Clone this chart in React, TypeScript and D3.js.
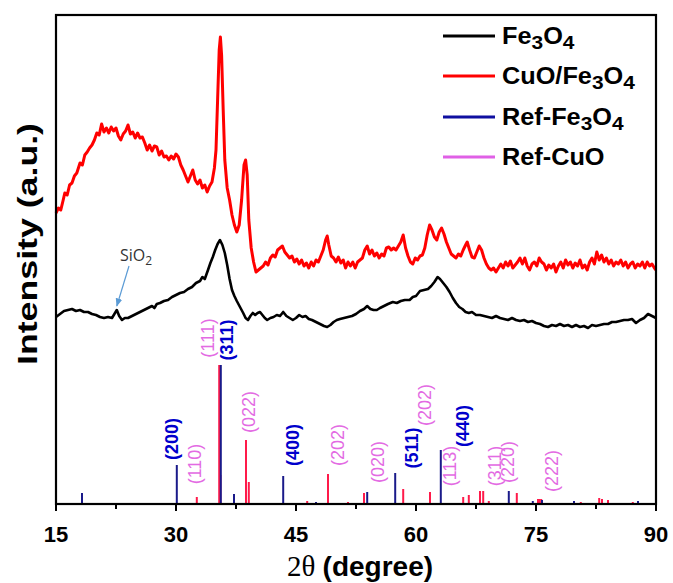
import React from 'react';
import * as d3 from 'd3';

// [2θ (degree), intensity (a.u.)]
const cuoFe3o4: [number, number][] = [
  [15.0,291],[15.3,296],[15.6,294],[15.9,304],[16.1,311],[16.4,309],[16.7,319],[17.0,321],[17.3,328],[17.6,331],
  [18.0,341],[18.3,339],[18.6,349],[18.9,352],[19.2,356],[19.5,359],[19.8,364],[20.1,371],[20.4,369],[20.7,380],
  [21.0,372],[21.3,376],[21.6,371],[21.9,377],[22.2,373],[22.5,376],[22.8,368],[23.1,364],[23.4,370],[23.7,373],
  [24.0,379],[24.3,370],[24.6,372],[24.9,366],[25.2,371],[25.5,366],[25.8,367],[26.1,361],[26.4,354],[26.7,359],
  [27.0,353],[27.3,358],[27.6,357],[27.9,349],[28.2,353],[28.5,347],[28.8,348],[29.1,344],[29.4,348],[29.7,345],
  [30.0,350],[30.3,347],[30.6,339],[30.9,334],[31.2,328],[31.5,322],[31.8,328],[32.1,334],[32.4,324],[32.7,320],
  [33.0,324],[33.3,316],[33.6,319],[33.9,312],[34.2,318],[34.5,322],[34.8,336],[35.0,354],[35.2,404],[35.4,454],
  [35.55,467],[35.7,449],[35.9,394],[36.1,344],[36.4,316],[36.7,304],[37.0,289],[37.3,279],[37.6,272],[37.9,279],
  [38.2,304],[38.5,339],[38.7,344],[38.9,329],[39.1,284],[39.4,256],[39.7,242],[40.0,232],[40.3,234],[40.6,236],
  [40.9,238],[41.2,242],[41.5,239],[41.8,246],[42.1,249],[42.4,247],[42.7,254],[43.0,256],[43.3,258],[43.6,252],
  [43.9,249],[44.2,246],[44.5,248],[44.8,242],[45.1,245],[45.4,240],[45.7,244],[46.0,238],[46.3,241],[46.6,236],
  [46.9,242],[47.2,238],[47.5,244],[47.8,242],[48.1,248],[48.4,254],[48.7,264],[48.9,268],[49.1,259],[49.4,248],
  [49.7,246],[50.0,242],[50.3,247],[50.6,241],[50.9,244],[51.2,236],[51.5,242],[51.8,238],[52.1,242],[52.4,236],
  [52.7,242],[53.0,244],[53.3,246],[53.6,254],[53.9,258],[54.2,250],[54.5,254],[54.8,248],[55.1,251],[55.4,246],
  [55.7,250],[56.0,248],[56.3,256],[56.6,257],[56.9,254],[57.2,256],[57.5,254],[57.8,258],[58.1,262],[58.4,269],
  [58.7,256],[59.0,248],[59.3,242],[59.6,240],[59.9,246],[60.2,244],[60.5,248],[60.8,249],[61.1,256],[61.4,269],
  [61.7,279],[62.0,274],[62.3,267],[62.6,264],[62.9,272],[63.2,276],[63.5,270],[63.8,262],[64.1,256],[64.4,250],
  [64.7,248],[65.0,246],[65.3,250],[65.6,248],[65.9,254],[66.2,259],[66.4,262],[66.7,254],[67.0,247],[67.3,246],
  [67.6,252],[67.9,258],[68.2,254],[68.5,246],[68.8,240],[69.1,236],[69.4,234],[69.7,236],[70.0,232],[70.3,236],
  [70.6,240],[70.9,236],[71.2,242],[71.5,238],[71.8,243],[72.1,236],[72.4,239],[72.7,242],[73.0,246],[73.3,240],
  [73.6,246],[73.9,238],[74.2,234],[74.5,240],[74.8,242],[75.1,238],[75.4,246],[75.7,242],[76.0,240],[76.3,234],
  [76.6,239],[76.9,236],[77.2,240],[77.5,232],[77.8,238],[78.1,242],[78.4,236],[78.7,244],[79.0,239],[79.3,242],
  [79.6,236],[79.9,241],[80.2,238],[80.5,244],[80.8,236],[81.1,239],[81.4,234],[81.7,242],[82.0,246],[82.3,240],
  [82.6,252],[82.9,244],[83.2,249],[83.5,242],[83.8,246],[84.1,240],[84.4,244],[84.7,238],[85.0,242],[85.3,240],
  [85.6,244],[85.9,238],[86.2,242],[86.5,236],[86.8,240],[87.1,242],[87.4,236],[87.7,240],[88.0,238],[88.3,242],
  [88.6,236],[88.9,242],[89.2,238],[89.5,240],[89.8,236],[90.0,234],
];

const fe3o4: [number, number][] = [
  [15.0,187],[15.5,190],[16.0,193],[16.5,194],[17.0,195],[17.5,193],[18.0,194],[18.5,192],[19.0,192],[19.5,190],
  [20.0,189],[20.5,187],[21.0,186],[21.5,187],[22.0,186],[22.3,190],[22.6,194],[22.9,188],[23.25,184],[23.6,186],
  [24.0,186],[24.5,188],[25.0,190],[25.5,192],[26.0,194],[26.5,196],[27.0,198],[27.3,196],[27.6,200],[28.0,201],
  [28.5,203],[29.0,204],[29.5,207],[30.0,209],[30.5,211],[31.0,212],[31.5,215],[32.0,217],[32.5,221],[33.0,223],
  [33.3,227],[33.6,225],[34.0,234],[34.3,241],[34.6,247],[34.9,254],[35.2,260],[35.5,264],[35.8,259],[36.1,251],
  [36.4,239],[36.7,225],[37.0,214],[37.3,208],[37.6,203],[38.0,197],[38.4,191],[38.7,186],[39.0,184],[39.3,188],
  [39.6,191],[39.9,189],[40.2,191],[40.5,192],[40.8,189],[41.1,186],[41.4,184],[41.8,186],[42.2,187],[42.6,189],
  [43.0,188],[43.4,192],[43.8,188],[44.2,186],[44.6,184],[45.0,186],[45.4,189],[45.8,187],[46.2,188],[46.6,185],
  [47.0,184],[47.5,182],[48.0,180],[48.5,178],[48.9,177],[49.3,179],[49.7,182],[50.1,184],[50.5,185],[51.0,186],
  [51.5,187],[52.0,188],[52.5,190],[53.0,193],[53.5,195],[53.9,198],[54.3,195],[54.7,194],[55.1,194],[55.5,196],
  [56.0,198],[56.5,200],[57.1,202],[57.6,201],[58.1,203],[58.6,204],[59.2,204],[59.6,207],[60.0,208],[60.5,213],
  [61.0,214],[61.5,215],[61.9,218],[62.3,222],[62.7,227],[63.0,225],[63.4,221],[63.8,217],[64.2,212],[64.6,206],
  [65.0,201],[65.4,197],[65.8,195],[66.2,192],[66.6,191],[67.0,192],[67.5,189],[68.0,189],[68.5,188],[69.0,187],
  [69.5,186],[70.0,188],[70.5,186],[71.0,185],[71.5,184],[72.0,186],[72.5,184],[73.0,183],[73.5,184],[74.0,182],
  [74.5,183],[75.0,181],[75.5,180],[76.0,178],[76.5,177],[77.0,179],[77.5,178],[78.0,180],[78.5,178],[79.0,179],
  [79.5,177],[80.0,179],[80.5,177],[81.0,178],[81.5,176],[82.0,179],[82.5,178],[83.0,179],[83.5,180],[84.0,180],
  [84.5,182],[85.0,182],[85.5,183],[86.0,184],[86.5,184],[87.0,185],[87.5,181],[88.0,184],[88.5,186],[89.0,190],
  [89.5,188],[90.0,186],
];

const refFe3o4: [number, number][] = [
  [18.25,11],[30.1,39],[35.6,139],[37.25,10],[43.4,28],[47.5,2],[53.9,12],[57.4,31],[63.1,54],
  [71.6,13],[74.6,3],[75.75,4],[79.75,3],[87.75,3],
];

const refCuO: [number, number][] = [
  [32.6,7],[35.4,139],[35.55,29],[38.75,64],[39.1,22],[46.4,3],[49.0,30],[51.5,2],[53.5,11],[58.4,15],
  [61.75,12],[65.9,7],[66.6,9],[68.0,13],[68.4,13],[69.1,3],[72.6,11],[75.25,5],[75.45,5],[75.65,5],
  [80.6,2],[82.9,6],[83.25,5],[84.0,4],[87.1,2],[90.0,4],
];

// [label, 2θ, intensity, phase]
const planeLabels: [string, number, number, string][] = [
  ['(200)',29.5,65,'Fe'],['(110)',32.4,40,'Cu'],['(111)',34.0,166,'Cu'],['(311)',36.4,164,'Fe'],
  ['(022)',39.1,92,'Cu'],['(400)',44.6,59,'Fe'],['(202)',50.25,59,'Cu'],['(020)',55.25,42,'Cu'],
  ['(511)',59.5,56,'Fe'],['(202)',61.1,99,'Cu'],['(113)',64.25,38,'Cu'],['(440)',65.9,78,'Fe'],
  ['(311)',69.9,38,'Cu'],['(220)',71.5,42,'Cu'],['(222)',77.0,33,'Cu'],
];

const xTicks = [15, 30, 45, 60, 75, 90];
const xMinorTicks = [22.5, 37.5, 52.5, 67.5, 82.5];

const W = 673, H = 583;
const L = 56, R = 656, T = 15, B = 504;
const SANS = "'Liberation Sans', Arial, sans-serif";

export default function App() {
  const x = d3.scaleLinear().domain([15, 90]).range([L, R]);
  const y = d3.scaleLinear().domain([0, 489]).range([B, T]);
  const line = d3.line<[number, number]>().x(d => x(d[0])).y(d => y(d[1])).curve(d3.curveLinear);

  const legend = [
    { c: '#000000', parts: [['Fe', 0], ['3', 1], ['O', 0], ['4', 1]] },
    { c: '#ff0000', parts: [['CuO/Fe', 0], ['3', 1], ['O', 0], ['4', 1]] },
    { c: '#0f0fa0', parts: [['Ref-Fe', 0], ['3', 1], ['O', 0], ['4', 1]] },
    { c: '#e060e6', parts: [['Ref-CuO', 0]] },
  ];
  const legendY = [36, 76, 117, 157];

  return (
    <svg width={W} height={H} style={{ position: 'absolute', left: 0, top: 0, background: '#fff' }}
      xmlns="http://www.w3.org/2000/svg">
      <defs>
        <marker id="arr" viewBox="0 0 10 10" refX="9" refY="5" markerWidth="7" markerHeight="7" orient="auto">
          <path d="M0,1 L10,5 L0,9 z" fill="#5b9bd5" />
        </marker>
      </defs>
      <rect x={0} y={0} width={W} height={H} fill="#fff" />

      {/* reference sticks */}
      {refCuO.map((d, i) => (
        <line key={'c' + i} x1={x(d[0])} x2={x(d[0])} y1={y(0)} y2={y(d[1])} stroke="#ff1a4a" strokeWidth={2} />
      ))}
      {refFe3o4.map((d, i) => (
        <line key={'f' + i} x1={x(d[0])} x2={x(d[0])} y1={y(0)} y2={y(d[1])} stroke="#1a1a8a" strokeWidth={2} />
      ))}

      {/* curves */}
      <path d={line(fe3o4) || ''} fill="none" stroke="#000" strokeWidth={2.6} strokeLinejoin="round" />
      <path d={line(cuoFe3o4) || ''} fill="none" stroke="#ff0000" strokeWidth={3} strokeLinejoin="round" />

      {/* plane labels */}
      {planeLabels.map((d, i) => (
        <text key={'l' + i} transform={`translate(${x(d[1])},${y(d[2])}) rotate(-90)`}
          textAnchor="middle" dominantBaseline="central"
          fontFamily={SANS} fontSize={18} fontWeight={d[3] === 'Fe' ? 'bold' : 'normal'}
          fill={d[3] === 'Fe' ? '#0000cc' : '#e36be3'}>{d[0]}</text>
      ))}

      {/* SiO2 annotation */}
      <line x1={129} y1={266} x2={x(22.6)} y2={y(194) - 4} stroke="#5b9bd5" strokeWidth={1.2} markerEnd="url(#arr)" />
      <text x={120} y={261} fontFamily="'Open Sans', 'Noto Sans', sans-serif" fontSize={16} fill="#333">
        SiO<tspan fontSize={12} dy={4}>2</tspan>
      </text>

      {/* frame */}
      <rect x={L} y={T} width={R - L} height={B - T} fill="none" stroke="#000" strokeWidth={2.2} />

      {/* x ticks */}
      {xTicks.map(t => (
        <g key={'t' + t}>
          <line x1={x(t)} x2={x(t)} y1={B} y2={B + 7} stroke="#000" strokeWidth={2} />
          <text x={x(t)} y={542} textAnchor="middle" fontFamily={SANS} fontWeight="bold" fontSize={22} fill="#000">{t}</text>
        </g>
      ))}
      {xMinorTicks.map(t => (
        <line key={'m' + t} x1={x(t)} x2={x(t)} y1={B} y2={B + 5} stroke="#000" strokeWidth={2} />
      ))}

      {/* axis titles */}
      <text x={360} y={576} textAnchor="middle" fill="#000">
        <tspan fontFamily="'Liberation Serif', 'Times New Roman', serif" fontSize={29}>2θ </tspan>
        <tspan fontFamily={SANS} fontWeight="bold" fontSize={28}>(degree)</tspan>
      </text>
      <text transform="translate(37,244) rotate(-90)" textAnchor="middle" fontFamily={SANS}
        fontWeight="bold" fontSize={28} fill="#000" textLength={242} lengthAdjust="spacingAndGlyphs">Intensity (a.u.)</text>

      {/* legend */}
      {legend.map((g, i) => (
        <g key={'lg' + i}>
          <line x1={443} x2={495} y1={legendY[i]} y2={legendY[i]} stroke={g.c} strokeWidth={3} />
          <text transform={`translate(502,${legendY[i] + 8}) scale(1.1,1)`} fontFamily={SANS} fontWeight="bold" fontSize={23} fill="#000">
            {g.parts.map((p, j) => (
              <tspan key={j} fontSize={p[1] ? 19 : 23}
                dy={p[1] ? 5 : (j > 0 && g.parts[j - 1][1] ? -5 : 0)}>{p[0]}</tspan>
            ))}
          </text>
        </g>
      ))}
    </svg>
  );
}
